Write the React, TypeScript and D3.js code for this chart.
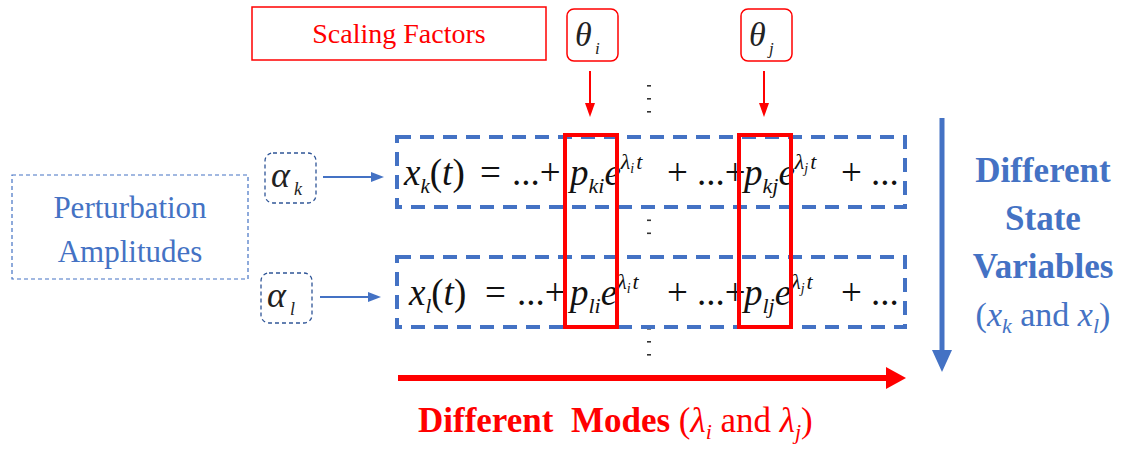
import { useEffect, useRef } from "react";
import * as d3 from "d3";

// diagram content
const stateVars = ["k", "l"];
const modes = ["i", "j"];
const scalingLabel = "Scaling Factors";
const perturbationLines = ["Perturbation", "Amplitudes"];
const stateLines = ["Different", "State", "Variables"];
const dotGroups = ["above", "between", "below"];

const W = 1129, H = 449;
const BLUE = "#4472C4";
const DARK_BLUE = "#2F5597";
const RED = "#FF0000";
const FONT = "Liberation Serif";

const css = `
@font-face { font-family: "DiagSerif"; src: local("Liberation Serif"), local("LiberationSerif"); font-style: normal; font-weight: 400; }
@font-face { font-family: "DiagSerif"; src: local("Liberation Serif Italic"), local("LiberationSerif-Italic"); font-style: italic; font-weight: 400; }
@font-face { font-family: "DiagSerif"; src: local("Liberation Serif Bold"), local("LiberationSerif-Bold"); font-style: normal; font-weight: 700; }
svg text, svg tspan { font-family: "Liberation Serif", "DiagSerif", "Times New Roman", serif !important; }
`;

const rowY = d3.scalePoint<string>().domain(stateVars).range([172, 292]);
const colX = d3.scalePoint<string>().domain(modes).range([565, 739]);
const dotY = d3.scalePoint<string>().domain(dotGroups).range([99, 342]);

const Eq = ({ s }: { s: string }) => {
  const y = (rowY(s) as number) + 13;
  const x0 = s === "k" ? 404 : 409;
  return (
    <text x={x0} y={y} fontFamily={FONT} fontSize={37} fill="#111">
      <tspan fontStyle="italic">x</tspan>
      <tspan fontStyle="italic" fontSize={21} dy={8}>{s}</tspan>
      <tspan dy={-8}>(</tspan>
      <tspan fontStyle="italic">t</tspan>
      <tspan>)</tspan>
      <tspan x={x0 + 76}>=</tspan>
      <tspan x={x0 + 108}>...+</tspan>
      {modes.map((m, idx) => {
        const px = (colX(m) as number) + 5;
        return [
          <tspan key={m + "p"} x={px} fontStyle="italic">p</tspan>,
          <tspan key={m + "ps"} fontStyle="italic" fontSize={22} dy={8}>{s + m}</tspan>,
          <tspan key={m + "e"} fontStyle="italic" dy={-8}>e</tspan>,
          <tspan key={m + "l"} fontStyle="italic" fontSize={22} dy={-16}>λ</tspan>,
          <tspan key={m + "ls"} fontStyle="italic" fontSize={14} dy={4}>{m}</tspan>,
          <tspan key={m + "t"} fontStyle="italic" fontSize={22} dy={-4} dx={2}>t</tspan>,
          <tspan key={m + "r"} dy={16} x={px + 97}>{idx === 0 ? "+\u00a0...+" : "+\u00a0..."}</tspan>,
        ];
      })}
    </text>
  );
};

export default function App() {
  const ref = useRef<SVGSVGElement>(null);
  useEffect(() => {
    // re-apply the serif face once mounted
    d3.select(ref.current).selectAll("text").attr("font-family", FONT);
  }, []);

  const boxL = 397, boxR = 905, boxH = 70;
  const redW = 52;
  const eqTop = (rowY(stateVars[0]) as number) - boxH / 2;
  const eqBot = (rowY(stateVars[stateVars.length - 1]) as number) + boxH / 2;
  return (
    <svg ref={ref} width={W} height={H} style={{ position: "absolute", left: 0, top: 0, background: "#fff", fontFamily: FONT }}>
      <style>{css}</style>
      <g fontFamily={FONT}>
        {/* scaling factors label */}
        <rect x={252} y={7} width={294} height={53} fill="none" stroke={RED} strokeWidth={1.5} />
        <text x={399} y={43} textAnchor="middle" fontFamily={FONT} fontSize={28} fill={RED}>{scalingLabel}</text>

        {/* theta boxes and arrows */}
        {modes.map((m) => {
          const cx = (colX(m) as number) + 25;
          return (
            <g key={m}>
              <rect x={cx - 23} y={9} width={51} height={52} rx={7} fill="none" stroke={RED} strokeWidth={1.5} />
              <text x={cx - 15} y={46} fontFamily={FONT} fontStyle="italic" fontSize={34} fill="#222">θ</text>
              <text x={cx + 5} y={54} fontFamily={FONT} fontStyle="italic" fontSize={17} fill="#222">{m}</text>
              <line x1={cx} x2={cx} y1={71} y2={104} stroke={RED} strokeWidth={2} />
              <path d={`M${cx - 5},${103}L${cx + 5},${103}L${cx},${117}Z`} fill={RED} />
            </g>
          );
        })}

        {/* vertical ellipsis dots */}
        {dotGroups.map((g) => (
          <g key={g}>
            {[-13, 0, 13].map((o) => (
              <rect key={o} x={647} y={(dotY(g) as number) + o - 1} width={4} height={1.6} fill="#333" />
            ))}
          </g>
        ))}

        {/* perturbation amplitudes */}
        <rect x={12} y={175} width={236} height={104} fill="none" stroke={BLUE} strokeWidth={1.2} strokeDasharray="4 3" />
        {perturbationLines.map((t, i) => (
          <text key={t} x={130} y={218 + i * 44} textAnchor="middle" fontFamily={FONT} fontSize={31} fill={BLUE}>{t}</text>
        ))}

        {/* alpha boxes and arrows */}
        {stateVars.map((s) => {
          const y = rowY(s) as number;
          const bx = s === "k" ? 265 : 261;
          const ax = s === "k" ? 323 : 320;
          return (
            <g key={s}>
              <rect x={bx} y={y - 19} width={51} height={50} rx={8} fill="none" stroke={DARK_BLUE} strokeWidth={1.3} strokeDasharray="4 3" />
              <text x={bx + 6} y={y + 15} fontFamily={FONT} fontStyle="italic" fontSize={36} fill="#222">α</text>
              <text x={bx + 29} y={y + 23} fontFamily={FONT} fontStyle="italic" fontSize={18} fill="#222">{s}</text>
              <line x1={ax} x2={ax + 50} y1={y + 5} y2={y + 5} stroke={BLUE} strokeWidth={2} />
              <path d={`M${ax + 48},${y}L${ax + 61},${y + 5}L${ax + 48},${y + 10}Z`} fill={BLUE} />
            </g>
          );
        })}

        {/* equation rows */}
        {stateVars.map((s) => (
          <g key={s}>
            <rect x={boxL} y={(rowY(s) as number) - boxH / 2} width={boxR - boxL} height={boxH} fill="none" stroke={BLUE} strokeWidth={4} strokeDasharray="14 9" />
            <Eq s={s} />
          </g>
        ))}

        {/* red mode columns */}
        {modes.map((m) => (
          <rect key={m} x={colX(m)} y={eqTop - 2} width={redW} height={eqBot - eqTop + 2} fill="none" stroke={RED} strokeWidth={4} />
        ))}

        {/* state variables arrow */}
        <line x1={942} x2={942} y1={118} y2={352} stroke={BLUE} strokeWidth={5} />
        <path d="M932,350L952,350L942,372Z" fill={BLUE} />
        {stateLines.map((t, i) => (
          <text key={t} x={1043} y={182 + i * 48} textAnchor="middle" fontFamily={FONT} fontWeight="bold" fontSize={35} fill={BLUE}>{t}</text>
        ))}
        <text x={1043} y={326} textAnchor="middle" fontFamily={FONT} fontSize={34} fill={BLUE}>
          <tspan>(</tspan>
          <tspan fontStyle="italic">x</tspan>
          <tspan fontStyle="italic" fontSize={22} dy={7}>{stateVars[0]}</tspan>
          <tspan dy={-7}>{"\u00a0and\u00a0"}</tspan>
          <tspan fontStyle="italic">x</tspan>
          <tspan fontStyle="italic" fontSize={22} dy={7}>{stateVars[1]}</tspan>
          <tspan dy={-7}>)</tspan>
        </text>

        {/* modes arrow */}
        <line x1={398} x2={890} y1={378} y2={378} stroke={RED} strokeWidth={6} />
        <path d="M886,367L906,378L886,389Z" fill={RED} />
        <text x={418} y={432} fontFamily={FONT} fontSize={35} fill={RED}>
          <tspan fontWeight="bold">{"Different\u00a0\u00a0Modes"}</tspan>
          <tspan>{"\u00a0("}</tspan>
          <tspan fontStyle="italic">λ</tspan>
          <tspan fontStyle="italic" fontSize={22} dy={7}>{modes[0]}</tspan>
          <tspan dy={-7}>{"\u00a0and\u00a0"}</tspan>
          <tspan fontStyle="italic">λ</tspan>
          <tspan fontStyle="italic" fontSize={22} dy={7}>{modes[1]}</tspan>
          <tspan dy={-7}>)</tspan>
        </text>
      </g>
    </svg>
  );
}
